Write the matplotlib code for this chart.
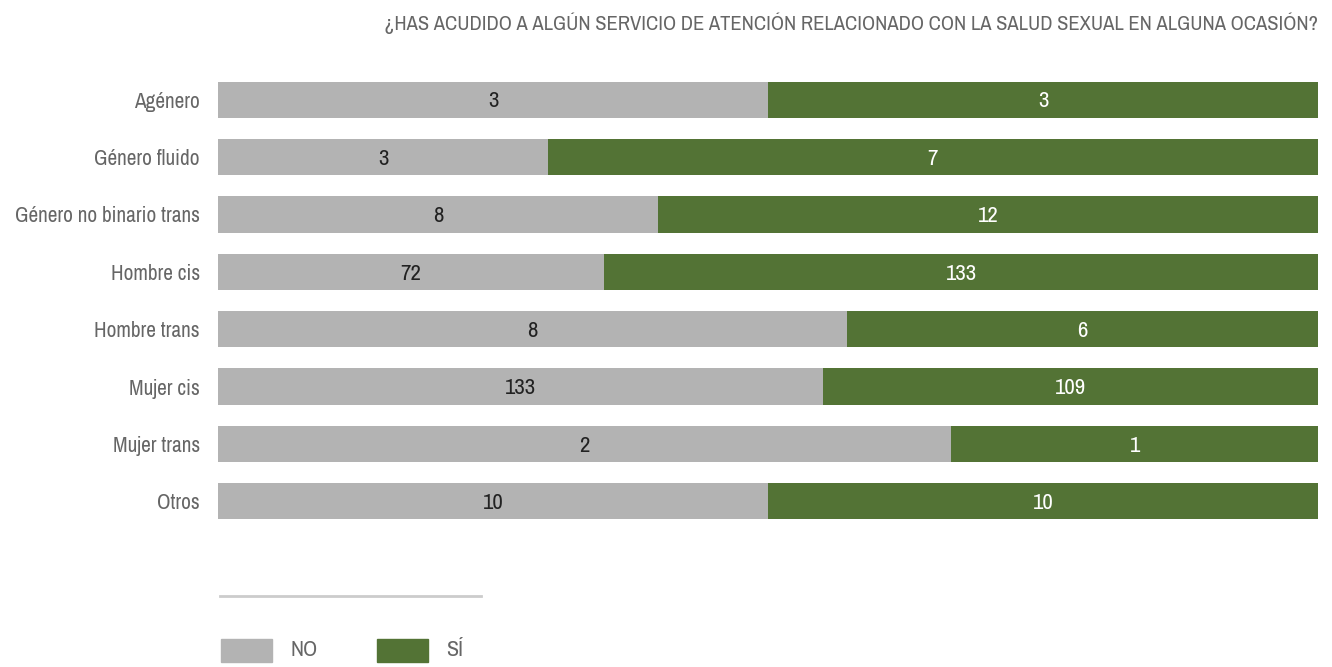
import matplotlib
matplotlib.use("Agg")
import matplotlib.pyplot as plt
from matplotlib import font_manager
from matplotlib.patches import Rectangle
from matplotlib.lines import Line2D

# Pick a narrow face if one is installed
names = sorted({f.name for f in font_manager.fontManager.ttflist})
narrow = [n for n in names if "Condensed" in n or "Narrow" in n]
family = narrow[0] if narrow else "Roboto"
plt.rcParams["font.family"] = [family, "DejaVu Sans"]

title = "¿HAS ACUDIDO A ALGÚN SERVICIO DE ATENCIÓN RELACIONADO CON LA SALUD SEXUAL EN ALGUNA OCASIÓN?"
categories = ["Agénero", "Género fluido", "Género no binario trans", "Hombre cis",
              "Hombre trans", "Mujer cis", "Mujer trans", "Otros"]
no_counts = [3, 3, 8, 72, 8, 133, 2, 10]
si_counts = [3, 7, 12, 133, 6, 109, 1, 10]
series_names = ["NO", "SÍ"]

grey = "#b3b3b3"
green = "#537335"
text_grey = "#666666"

W, H = 1332, 667
fig = plt.figure(figsize=(W / 100, H / 100), dpi=100)
ax = fig.add_axes([218 / W, 1 - 530 / H, 1100 / W, (530 - 71) / H])

n = len(categories)
ys = list(range(n))
totals = [a + b for a, b in zip(no_counts, si_counts)]
no_share = [a / t for a, t in zip(no_counts, totals)]
si_share = [b / t for b, t in zip(si_counts, totals)]

ax.barh(ys, no_share, height=0.63, color=grey)
ax.barh(ys, si_share, left=no_share, height=0.63, color=green)

for y, a, b, pa, pb in zip(ys, no_counts, si_counts, no_share, si_share):
    ax.text(pa / 2, y + 0.03, str(a), ha="center", va="center", fontsize=16.5, color="#222222")
    ax.text(pa + pb / 2, y + 0.03, str(b), ha="center", va="center", fontsize=16.5, color="white")

ax.set_xlim(0, 1)
ax.set_ylim(n - 0.5, -0.5)
ax.set_yticks(ys)
ax.set_yticklabels(categories, fontsize=15.3, color=text_grey)
ax.tick_params(axis="y", length=0, pad=13)
ax.set_xticks([])
for s in ax.spines.values():
    s.set_visible(False)

fig.text(1318 / W, 1 - 23 / H, title, ha="right", va="center", fontsize=14.8, color=text_grey)

# Legend separator and swatches
fig.add_artist(Line2D([220 / W, 481 / W], [1 - 596 / H, 1 - 596 / H], color="#cccccc", lw=2,
                      transform=fig.transFigure))
for x0, col, lab in [(221, grey, series_names[0]), (377, green, series_names[1])]:
    fig.add_artist(Rectangle((x0 / W, 1 - 662 / H), 51 / W, 23 / H, color=col,
                             transform=fig.transFigure))
    fig.text((x0 + 69) / W, 1 - 650 / H, lab, ha="left", va="center", fontsize=16, color=text_grey)

fig.savefig("out.png", dpi=100)
